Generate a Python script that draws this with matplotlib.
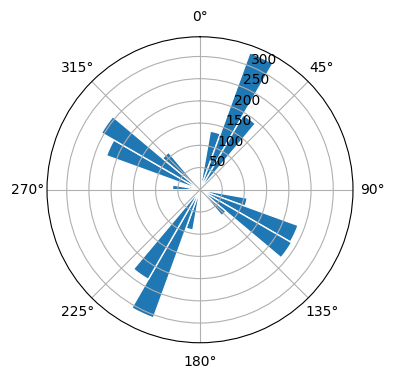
import numpy as np
import matplotlib
matplotlib.use("Agg")
import matplotlib.pyplot as plt

bin_centers_deg = [5, 15, 25, 35, 45, 55, 65, 75, 85, 95, 105, 115,
                   125, 135, 145, 155, 165, 175, 185, 195, 205, 215, 225, 235,
                   245, 255, 265, 275, 285, 295, 305, 315, 325, 335, 345, 355]
counts = [20, 134, 328, 194, 15, 10, 5, 5, 5, 12, 108, 235,
          238, 76, 12, 5, 5, 5, 15, 92, 307, 233, 15, 8,
          5, 5, 8, 62, 25, 224, 256, 110, 12, 5, 5, 5]
bin_width_deg = 10

fig = plt.figure(figsize=(3.96, 3.80), dpi=100)
ax = fig.add_axes([0.1187, 0.098, 0.7727, 0.8053], projection='polar')
ax.set_theta_zero_location('N')
ax.set_theta_direction(-1)
ax.bar(np.deg2rad(bin_centers_deg), counts, width=np.deg2rad(bin_width_deg),
       color='#1f77b4', edgecolor='white', linewidth=1)
ax.set_rticks([50, 100, 150, 200, 250, 300])
ax.grid(True)
fig.savefig("out.png", dpi=100)
